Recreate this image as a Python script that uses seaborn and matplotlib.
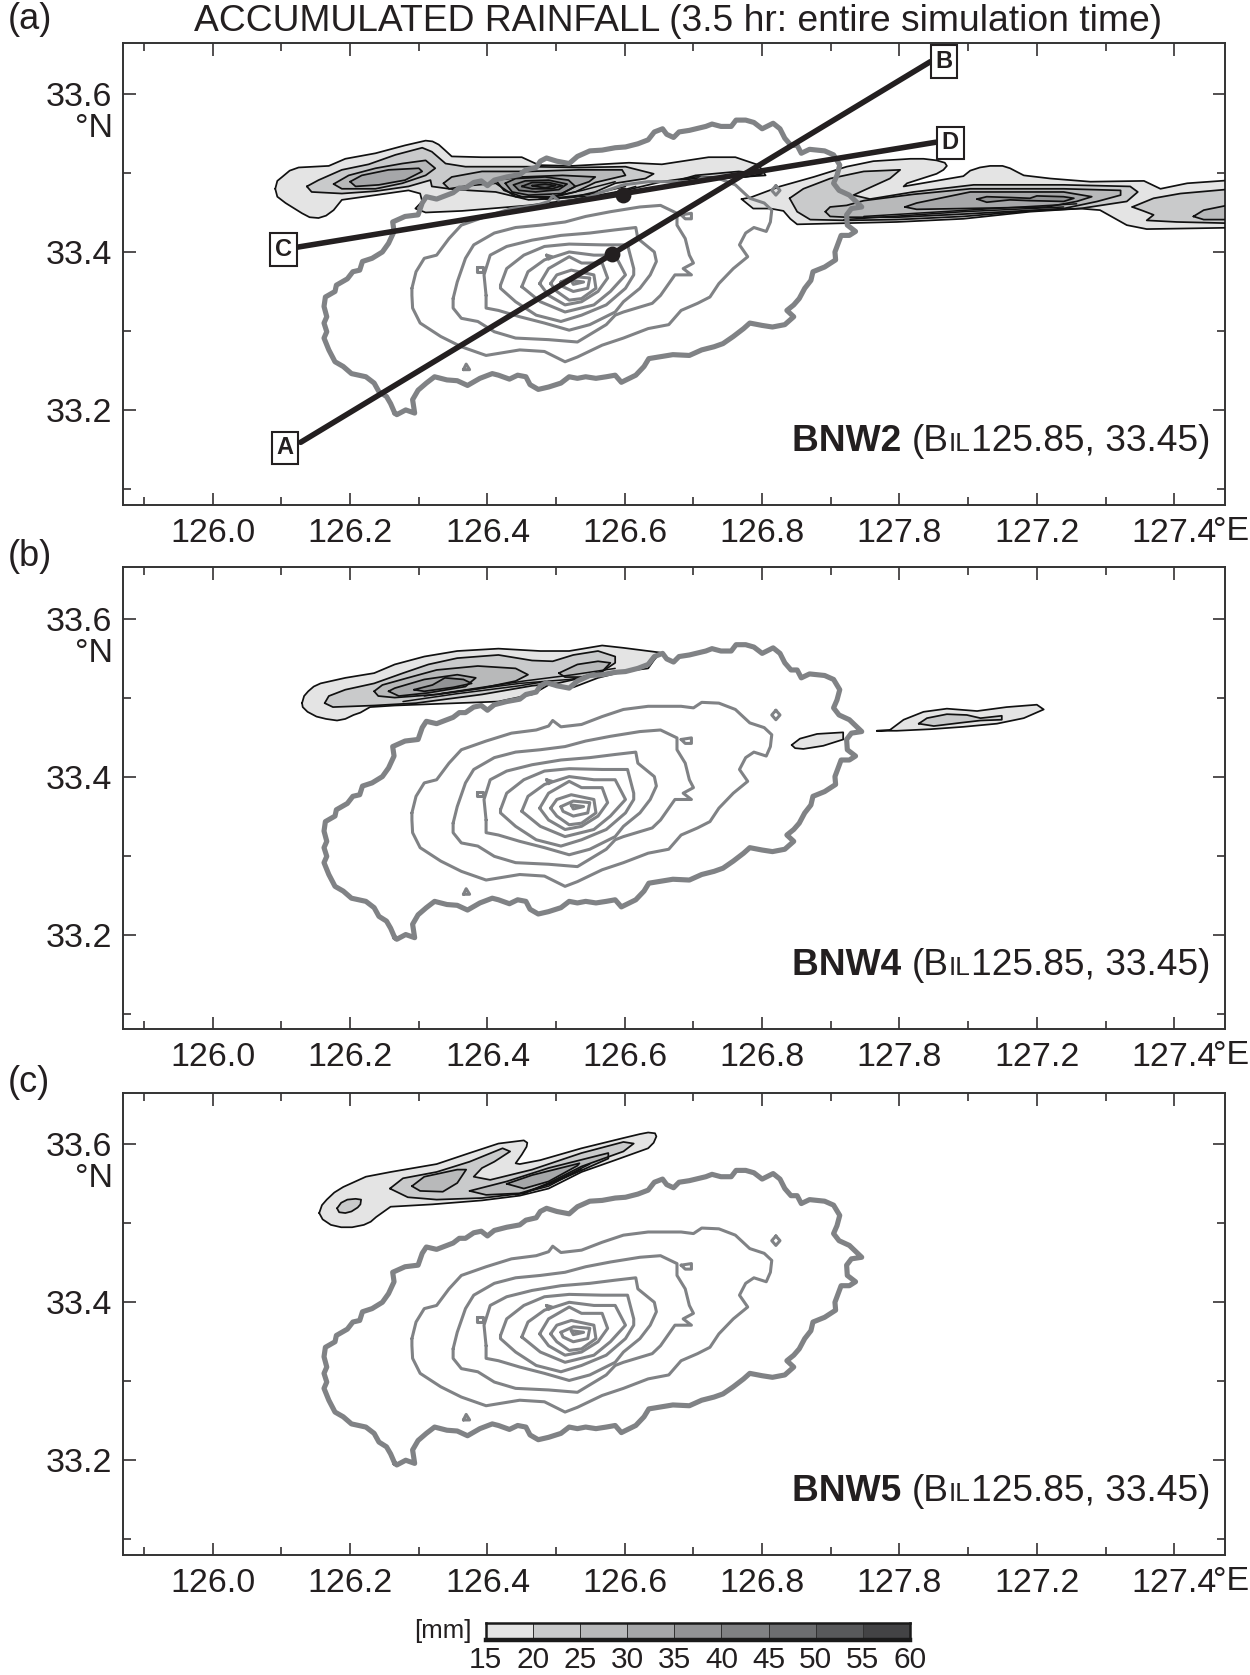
import numpy as np
import matplotlib
matplotlib.use('Agg')
import matplotlib.pyplot as plt
from matplotlib.colors import ListedColormap
import seaborn as sns

# coastline and rain contours as (lon, lat)
coast = [(126.265,33.196),(126.259,33.208),(126.253,33.217),(126.242,33.223),(126.235,33.234),(126.223,33.242),
    (126.202,33.246),(126.190,33.255),(126.178,33.261),(126.169,33.276),(126.162,33.291),(126.166,33.299),
    (126.162,33.310),(126.166,33.318),(126.162,33.331),(126.164,33.343),(126.178,33.350),(126.180,33.358),
    (126.196,33.366),(126.204,33.375),(126.214,33.377),(126.218,33.388),(126.232,33.392),(126.247,33.400),
    (126.256,33.411),(126.264,33.426),(126.262,33.438),(126.280,33.445),(126.299,33.447),(126.305,33.462),
    (126.311,33.470),(126.326,33.467),(126.338,33.471),(126.350,33.475),(126.359,33.481),(126.368,33.481),
    (126.380,33.488),(126.391,33.490),(126.400,33.484),(126.410,33.491),(126.428,33.495),(126.447,33.498),
    (126.456,33.504),(126.471,33.507),(126.477,33.515),(126.486,33.519),(126.501,33.515),(126.519,33.512),
    (126.531,33.521),(126.549,33.528),(126.567,33.529),(126.586,33.532),(126.601,33.533),(126.619,33.537),
    (126.634,33.542),(126.643,33.552),(126.655,33.556),(126.661,33.549),(126.671,33.545),(126.679,33.552),
    (126.694,33.554),(126.718,33.559),(126.727,33.562),(126.740,33.559),(126.755,33.559),(126.762,33.567),
    (126.776,33.567),(126.788,33.564),(126.800,33.556),(126.816,33.563),(126.826,33.556),(126.833,33.544),
    (126.842,33.535),(126.851,33.535),(126.857,33.525),(126.869,33.530),(126.891,33.528),(126.904,33.523),
    (126.913,33.510),(126.909,33.497),(126.904,33.487),(126.912,33.478),(126.927,33.472),(126.945,33.457),
    (126.930,33.455),(126.923,33.447),(126.924,33.434),(126.936,33.426),(126.927,33.421),(126.915,33.421),
    (126.906,33.400),(126.907,33.390),(126.891,33.381),(126.874,33.375),(126.871,33.364),(126.862,33.354),
    (126.854,33.341),(126.846,33.333),(126.836,33.326),(126.846,33.318),(126.833,33.308),(126.815,33.305),
    (126.800,33.307),(126.782,33.310),(126.773,33.303),(126.758,33.293),(126.743,33.284),(126.730,33.280),
    (126.712,33.276),(126.694,33.269),(126.670,33.270),(126.649,33.267),(126.635,33.265),(126.628,33.255),
    (126.616,33.244),(126.595,33.235),(126.586,33.244),(126.573,33.242),(126.558,33.240),(126.543,33.242),
    (126.531,33.240),(126.519,33.242),(126.507,33.234),(126.489,33.229),(126.474,33.226),(126.462,33.232),
    (126.456,33.242),(126.444,33.244),(126.432,33.239),(126.416,33.244),(126.407,33.246),(126.389,33.240),
    (126.371,33.231),(126.356,33.237),(126.341,33.238),(126.323,33.242),(126.311,33.234),(126.299,33.225),
    (126.291,33.213),(126.294,33.196),(126.281,33.200),(126.268,33.194)]

island_1 = [(126.290,33.354),(126.296,33.375),(126.308,33.392),(126.326,33.396),(126.344,33.417),(126.362,33.434),
    (126.398,33.445),(126.435,33.455),(126.471,33.459),(126.489,33.464),(126.495,33.471),(126.507,33.463),
    (126.537,33.466),(126.567,33.476),(126.598,33.485),(126.634,33.489),(126.682,33.489),(126.700,33.487),
    (126.712,33.494),(126.737,33.493),(126.761,33.485),(126.782,33.468),(126.803,33.462),(126.814,33.453),
    (126.812,33.438),(126.806,33.426),(126.788,33.431),(126.776,33.424),(126.767,33.409),(126.779,33.394),
    (126.758,33.379),(126.737,33.360),(126.724,33.343),(126.706,33.335),(126.682,33.326),(126.664,33.308),
    (126.634,33.303),(126.598,33.291),(126.567,33.282),(126.531,33.267),(126.513,33.261),(126.483,33.274),
    (126.447,33.276),(126.398,33.269),(126.362,33.280),(126.332,33.293),(126.302,33.310),(126.291,33.329),(126.290,33.345)]
island_2 = [(126.350,33.341),(126.356,33.362),(126.368,33.392),(126.380,33.409),(126.410,33.424),(126.441,33.431),
    (126.477,33.434),(126.513,33.438),(126.543,33.445),(126.579,33.451),(126.622,33.457),(126.652,33.459),
    (126.676,33.449),(126.676,33.434),(126.688,33.417),(126.694,33.396),(126.700,33.386),(126.685,33.379),
    (126.697,33.371),(126.673,33.371),(126.652,33.345),(126.640,33.335),(126.598,33.324),(126.586,33.320),
    (126.573,33.308),(126.531,33.286),(126.489,33.289),(126.441,33.291),(126.410,33.299),(126.386,33.312),
    (126.362,33.316),(126.350,33.329)]
island_3 = [(126.398,33.345),(126.395,33.371),(126.404,33.396),(126.428,33.407),(126.465,33.415),(126.507,33.421),
    (126.549,33.424),(126.586,33.428),(126.616,33.431),(126.619,33.417),(126.643,33.400),(126.646,33.388),
    (126.637,33.371),(126.622,33.354),(126.598,33.337),(126.586,33.324),(126.549,33.308),(126.519,33.301),
    (126.483,33.310),(126.447,33.318),(126.416,33.326),(126.398,33.329)]
island_4 = [(126.419,33.358),(126.428,33.379),(126.453,33.396),(126.483,33.407),(126.519,33.410),(126.567,33.409),
    (126.604,33.409),(126.613,33.379),(126.613,33.371),(126.601,33.354),(126.573,33.333),(126.537,33.320),
    (126.507,33.312),(126.471,33.320),(126.441,33.337),(126.419,33.354)]
island_5 = [(126.450,33.356),(126.459,33.375),(126.483,33.390),(126.519,33.400),(126.555,33.396),(126.586,33.396),
    (126.601,33.371),(126.579,33.350),(126.555,33.333),(126.513,33.324),(126.477,33.337),(126.453,33.354)]
island_6 = [(126.476,33.360),(126.489,33.379),(126.519,33.394),(126.537,33.386),(126.567,33.386),(126.575,33.367),
    (126.561,33.350),(126.537,33.337),(126.513,33.333),(126.489,33.345)]
island_7 = [(126.492,33.360),(126.501,33.371),(126.522,33.377),(126.555,33.371),(126.558,33.354),(126.537,33.341),
    (126.519,33.339),(126.501,33.350)]
island_8 = [(126.507,33.362),(126.525,33.369),(126.549,33.367),(126.546,33.354),(126.525,33.350),(126.510,33.356)]
island_9 = [(126.522,33.364),(126.540,33.362),(126.525,33.359)]
speck_1 = [(126.365,33.251),(126.369,33.258),(126.374,33.251)]
speck_2 = [(126.820,33.484),(126.826,33.478),(126.820,33.472),(126.814,33.478)]
speck_3 = [(126.682,33.447),(126.697,33.449),(126.697,33.442),(126.688,33.442)]
speck_4 = [(126.385,33.381),(126.393,33.381),(126.393,33.375),(126.385,33.375)]
speck_5 = [(126.486,33.396),(126.494,33.394),(126.489,33.391)]
island_contours = [island_1, island_2, island_3, island_4, island_5, island_6, island_7, island_8, island_9,
                   speck_1, speck_2, speck_3, speck_4, speck_5]

# BNW2 rain bands
a_left_1 = [(126.091,33.480),(126.094,33.490),(126.101,33.495),(126.112,33.503),(126.125,33.507),(126.169,33.509),
    (126.193,33.518),(126.237,33.525),(126.280,33.535),(126.310,33.541),(126.320,33.540),(126.329,33.536),
    (126.338,33.529),(126.348,33.521),(126.392,33.520),(126.450,33.520),(126.475,33.510),(126.523,33.509),
    (126.606,33.513),(126.654,33.511),(126.722,33.520),(126.761,33.520),(126.795,33.510),(126.805,33.497),
    (126.771,33.495),(126.703,33.495),(126.654,33.489),(126.601,33.478),(126.523,33.466),(126.460,33.459),
    (126.363,33.452),(126.310,33.450),(126.295,33.455),(126.305,33.464),(126.302,33.474),(126.285,33.478),
    (126.237,33.472),(126.188,33.466),(126.176,33.453),(126.165,33.446),(126.154,33.443),(126.141,33.444),
    (126.130,33.449),(126.106,33.462),(126.094,33.470)]
a_left_2 = [(126.137,33.483),(126.154,33.491),(126.188,33.504),(126.227,33.511),(126.266,33.523),(126.305,33.532),
    (126.319,33.527),(126.339,33.512),(126.368,33.508),(126.460,33.508),(126.533,33.507),(126.601,33.508),
    (126.642,33.499),(126.630,33.493),(126.586,33.487),(126.557,33.476),(126.523,33.469),(126.460,33.466),
    (126.412,33.476),(126.373,33.478),(126.344,33.480),(126.319,33.483),(126.317,33.491),(126.285,33.483),
    (126.237,33.477),(126.188,33.474),(126.144,33.476)]
a_left_3 = [(126.176,33.486),(126.198,33.497),(126.237,33.506),(126.276,33.512),(126.310,33.516),(126.324,33.506),
    (126.310,33.497),(126.276,33.487),(126.237,33.480),(126.188,33.480)]
a_left_4 = [(126.200,33.489),(126.217,33.497),(126.256,33.504),(126.300,33.506),(126.305,33.502),(126.280,33.491),
    (126.242,33.485),(126.208,33.483)]
a_mid_3 = [(126.336,33.487),(126.348,33.495),(126.392,33.502),(126.460,33.502),(126.533,33.504),(126.596,33.504),
    (126.601,33.497),(126.557,33.488),(126.528,33.476),(126.494,33.469),(126.441,33.470),(126.412,33.487),
    (126.373,33.484),(126.344,33.480)]
a_mid_4 = [(126.412,33.491),(126.450,33.495),(126.509,33.497),(126.557,33.495),(126.548,33.489),(126.528,33.483),
    (126.499,33.470),(126.450,33.470),(126.424,33.478)]
a_mid_5 = [(126.426,33.487),(126.441,33.493),(126.484,33.495),(126.518,33.491),(126.528,33.483),(126.509,33.474),
    (126.460,33.472),(126.436,33.476)]
a_mid_6 = [(126.438,33.485),(126.455,33.490),(126.489,33.491),(126.516,33.486),(126.504,33.479),(126.470,33.476),(126.446,33.478)]
a_mid_7 = [(126.450,33.483),(126.465,33.488),(126.489,33.488),(126.509,33.484),(126.494,33.480),(126.465,33.480)]
a_mid_8 = [(126.465,33.484),(126.484,33.486),(126.499,33.484),(126.484,33.481)]
a_patch_2 = [(126.679,33.491),(126.703,33.497),(126.766,33.502),(126.800,33.499),(126.776,33.495),(126.703,33.493)]
a_right_1 = [(126.770,33.467),(126.783,33.469),(126.826,33.483),(126.875,33.495),(126.923,33.508),(126.962,33.515),
    (127.016,33.518),(127.035,33.518),(127.054,33.516),(127.066,33.513),(127.069,33.509),(127.064,33.504),
    (127.054,33.499),(127.011,33.487),(127.006,33.483),(127.093,33.496),(127.103,33.503),(127.117,33.507),
    (127.132,33.509),(127.150,33.509),(127.161,33.506),(127.172,33.501),(127.181,33.497),(127.220,33.493),
    (127.278,33.489),(127.356,33.490),(127.380,33.480),(127.419,33.487),(127.500,33.492),(127.500,33.431),
    (127.433,33.430),(127.360,33.429),(127.331,33.434),(127.292,33.453),(127.263,33.455),(127.190,33.451),
    (127.093,33.442),(126.996,33.438),(126.899,33.436),(126.851,33.435),(126.841,33.442),(126.831,33.452),
    (126.812,33.455),(126.787,33.455)]
a_right_2 = [(126.840,33.468),(126.860,33.480),(126.899,33.493),(126.948,33.502),(127.001,33.504),(126.986,33.493),
    (126.948,33.478),(126.933,33.472),(126.957,33.467),(127.020,33.476),(127.108,33.485),(127.239,33.485),
    (127.336,33.483),(127.347,33.476),(127.331,33.464),(127.263,33.455),(127.190,33.452),(127.093,33.445),
    (126.996,33.441),(126.923,33.440),(126.870,33.441),(126.851,33.451)]
a_right_3 = [(126.892,33.451),(126.899,33.457),(126.923,33.459),(126.948,33.465),(127.020,33.473),(127.103,33.480),
    (127.239,33.480),(127.322,33.478),(127.322,33.472),(127.288,33.464),(127.239,33.455),(127.093,33.448),
    (126.996,33.444),(126.923,33.444),(126.899,33.445)]
a_right_4 = [(127.008,33.457),(127.025,33.462),(127.103,33.476),(127.239,33.476),(127.280,33.470),(127.258,33.464),
    (127.215,33.457),(127.093,33.455),(127.025,33.454)]
a_right_5 = [(127.113,33.467),(127.127,33.470),(127.161,33.469),(127.190,33.468),(127.200,33.471),(127.239,33.470),
    (127.254,33.468),(127.239,33.464),(127.190,33.465),(127.161,33.466),(127.127,33.463)]
a_far_2 = [(127.339,33.457),(127.370,33.468),(127.409,33.474),(127.500,33.481),(127.500,33.436),(127.404,33.438),
    (127.360,33.440),(127.370,33.447),(127.355,33.452)]
a_far_3 = [(127.428,33.445),(127.443,33.453),(127.500,33.463),(127.500,33.441),(127.443,33.441)]
a_bands = [(1, a_left_1), (1, a_right_1), (2, a_left_2), (2, a_patch_2), (2, a_right_2), (2, a_far_2), (3, a_left_3),
           (3, a_mid_3), (3, a_right_3), (3, a_far_3), (4, a_left_4), (4, a_mid_4), (4, a_right_4), (5, a_mid_5),
           (5, a_right_5), (6, a_mid_6), (7, a_mid_7), (8, a_mid_8)]
a_tight = [[(126.484,33.467),(126.557,33.474),(126.601,33.483)], [(126.489,33.469),(126.538,33.478),(126.586,33.489)],
           [(126.475,33.467),(126.572,33.472),(126.616,33.483)], [(126.919,33.441),(127.093,33.451),(127.239,33.457)],
           [(126.948,33.445),(127.118,33.454),(127.258,33.461)]]

# BNW4 rain bands
b_main_1 = [(126.130,33.493),(126.133,33.502),(126.139,33.508),(126.147,33.514),(126.157,33.518),(126.193,33.525),
    (126.235,33.531),(126.265,33.542),(126.308,33.552),(126.356,33.559),(126.416,33.562),(126.477,33.559),
    (126.519,33.559),(126.567,33.566),(126.598,33.563),(126.652,33.557),(126.643,33.548),(126.634,33.537),
    (126.598,33.533),(126.561,33.525),(126.525,33.513),(126.489,33.516),(126.465,33.504),(126.416,33.495),
    (126.265,33.490),(126.229,33.488),(126.215,33.481),(126.205,33.478),(126.193,33.473),(126.181,33.471),
    (126.165,33.473),(126.151,33.476),(126.138,33.482),(126.131,33.488)]
b_main_2 = [(126.163,33.493),(126.169,33.502),(126.193,33.510),(126.235,33.518),(126.277,33.531),(126.314,33.542),
    (126.356,33.550),(126.416,33.554),(126.465,33.547),(126.495,33.546),(126.525,33.554),(126.561,33.559),
    (126.586,33.552),(126.586,33.544),(126.567,33.533),(126.537,33.525),(126.501,33.518),(126.465,33.515),
    (126.392,33.504),(126.296,33.493),(126.235,33.490),(126.175,33.488)]
b_main_3 = [(126.235,33.508),(126.247,33.516),(126.284,33.525),(126.326,33.535),(126.386,33.540),(126.441,33.537),
    (126.459,33.529),(126.441,33.521),(126.392,33.512),(126.326,33.504),(126.265,33.500),(126.241,33.502)]
b_east_3 = [(126.504,33.531),(126.531,33.542),(126.561,33.546),(126.579,33.544),(126.567,33.533),(126.537,33.526),(126.513,33.526)]
b_main_4 = [(126.256,33.508),(126.265,33.512),(126.308,33.523),(126.356,33.529),(126.383,33.525),(126.368,33.514),
    (126.314,33.506),(126.271,33.502)]
b_main_5 = [(126.293,33.510),(126.320,33.516),(126.338,33.525),(126.365,33.523),(126.377,33.518),(126.350,33.513),(126.308,33.508)]
b_frag_1 = [(126.843,33.440),(126.855,33.448),(126.880,33.454),(126.918,33.456),(126.918,33.447),(126.889,33.439),
    (126.860,33.435),(126.848,33.436)]
b_frag_2 = [(126.967,33.458),(126.986,33.459),(127.006,33.472),(127.035,33.482),(127.069,33.486),(127.113,33.483),
    (127.156,33.488),(127.200,33.491),(127.210,33.485),(127.181,33.474),(127.142,33.467),(127.093,33.463),
    (127.045,33.460),(126.996,33.458)]
b_frag_3 = [(127.028,33.467),(127.040,33.474),(127.069,33.479),(127.098,33.478),(127.118,33.474),(127.149,33.477),
    (127.149,33.472),(127.118,33.471),(127.088,33.468),(127.050,33.464)]
b_bands = [(1, b_main_1), (1, b_frag_1), (1, b_frag_2), (2, b_main_2), (2, b_frag_3), (3, b_main_3), (3, b_east_3),
           (4, b_main_4), (5, b_main_5)]
b_tight = [[(126.277,33.495),(126.356,33.505),(126.447,33.515),(126.489,33.521)],
           [(126.308,33.502),(126.368,33.509),(126.447,33.518),(126.519,33.523),(126.555,33.528)],
           [(126.332,33.505),(126.392,33.513),(126.453,33.521),(126.525,33.529),(126.586,33.537)]]

# BNW5 rain bands
c_main_1 = [(126.155,33.513),(126.159,33.523),(126.166,33.530),(126.177,33.539),(126.190,33.546),(126.223,33.559),
    (126.259,33.565),(126.326,33.575),(126.374,33.589),(126.416,33.601),(126.453,33.605),(126.458,33.602),
    (126.457,33.597),(126.450,33.587),(126.441,33.576),(126.447,33.575),(126.477,33.580),(126.537,33.595),
    (126.598,33.608),(126.622,33.613),(126.634,33.615),(126.644,33.614),(126.646,33.610),(126.642,33.602),
    (126.634,33.595),(126.586,33.580),(126.537,33.565),(126.489,33.544),(126.447,33.535),(126.392,33.529),
    (126.320,33.524),(126.259,33.521),(126.238,33.508),(126.230,33.502),(126.220,33.498),(126.203,33.495),
    (126.187,33.495),(126.172,33.498),(126.160,33.505)]
c_blob_2 = [(126.181,33.519),(126.187,33.526),(126.196,33.530),(126.208,33.531),(126.216,33.530),(126.215,33.524),
    (126.211,33.520),(126.202,33.515),(126.193,33.513),(126.184,33.514)]
c_main_2 = [(126.258,33.544),(126.277,33.557),(126.326,33.565),(126.374,33.578),(126.422,33.595),(126.433,33.591),
    (126.410,33.578),(126.392,33.570),(126.380,33.559),(126.404,33.555),(126.465,33.568),(126.537,33.589),
    (126.598,33.603),(126.613,33.601),(126.598,33.591),(126.537,33.572),(126.489,33.551),(126.453,33.538),
    (126.392,33.532),(126.326,33.530),(126.284,33.533)]
c_west_3 = [(126.290,33.547),(126.308,33.559),(126.356,33.568),(126.369,33.568),(126.356,33.551),(126.335,33.540),(126.302,33.541)]
c_east_3 = [(126.374,33.541),(126.428,33.553),(126.489,33.570),(126.576,33.589),(126.576,33.582),(126.537,33.567),
    (126.489,33.549),(126.447,33.538),(126.398,33.536)]
c_east_4 = [(126.428,33.550),(126.465,33.561),(126.534,33.576),(126.531,33.573),(126.489,33.553),(126.453,33.544)]
c_bands = [(1, c_main_1), (2, c_blob_2), (2, c_main_2), (3, c_west_3), (3, c_east_3), (4, c_east_4)]
c_tight = [[(126.441,33.536),(126.489,33.547),(126.537,33.569)], [(126.453,33.538),(126.495,33.552),(126.549,33.575)]]

# cross section lines, panel (a)
line_ab = [(126.128,33.159),(127.045,33.641)]
line_cd = [(126.1225,33.406),(127.053,33.539)]
section_mid_lon = [126.582,126.597]
section_mid_lat = [33.397,33.472]
section_names = ['A','B','C','D']
section_name_lon = [126.105,127.065,126.103,127.074]
section_name_lat = [33.152,33.641,33.403,33.538]

x_ticks = [126.0,126.2,126.4,126.6,126.8,127.0,127.2,127.4]
x_labels = ['126.0','126.2','126.4','126.6','126.8','127.8','127.2','127.4']
x_minor = [125.9,126.1,126.3,126.5,126.7,126.9,127.1,127.3]
y_ticks = [33.2,33.4,33.6]
y_minor = [33.1,33.3,33.5]
cbar_levels = [15,20,25,30,35,40,45,50,55,60]
level_colors = ['#e4e4e4','#c9cacb','#b8b9ba','#a6a7a9','#929395','#808183','#6d6e70','#58595b','#434345']
run_names = ['BNW2','BNW4','BNW5']
panel_names = ['(a)','(b)','(c)']

W, H = 1250, 1675
INK = '#231f20'
GREY = '#808285'

sns.set_theme(style='ticks')
plt.rcParams['font.family'] = ['Liberation Sans', 'DejaVu Sans']
plt.rcParams['text.color'] = INK
plt.rcParams['xtick.color'] = INK
plt.rcParams['ytick.color'] = INK
plt.rcParams['axes.edgecolor'] = '#333333'


def draw_poly(ax, poly, color, lw, z, close=True):
    pts = np.array(poly + poly[:1]) if close else np.array(poly)
    sns.lineplot(x=pts[:, 0], y=pts[:, 1], sort=False, estimator=None, errorbar=None, color=color,
                 linewidth=lw, ax=ax, zorder=z, solid_joinstyle='round')


def draw_panel(ax, bands, tight):
    for level, poly in bands:
        pts = np.array(poly)
        ax.fill(pts[:, 0], pts[:, 1], color=level_colors[level - 1], linewidth=0, zorder=2)
        draw_poly(ax, poly, '#111111', 1.25, 3)
    for poly in tight:
        draw_poly(ax, poly, '#111111', 1.1, 3, close=False)
    for poly in island_contours:
        draw_poly(ax, poly, GREY, 2.2, 4)
    draw_poly(ax, coast, GREY, 3.7, 5)

    ax.set_xlim(125.869, 127.474)
    ax.set_ylim(33.08, 33.665)
    ax.set_xticks(x_ticks)
    ax.set_xticklabels(x_labels)
    ax.set_xticks(x_minor, minor=True)
    ax.set_yticks(y_ticks)
    ax.set_yticklabels(['%.1f' % v for v in y_ticks])
    ax.set_yticks(y_minor, minor=True)
    ax.tick_params(which='major', direction='in', top=True, right=True, length=9, width=1.1, labelsize=24.5)
    ax.tick_params(which='minor', direction='in', top=True, right=True, length=6, width=1.1)
    ax.tick_params(axis='x', which='major', pad=9.5)
    ax.tick_params(axis='y', which='major', pad=7.5)
    ax.set(xlabel='', ylabel='')
    for s in ax.spines.values():
        s.set_linewidth(1.4)


def run_label(fig, name, right, base):
    # pieces set right to left so the small capitals fit in
    pieces = [('125.85, 33.45)', 'normal', 26.7), ('IL', 'normal', 19), ('(B', 'normal', 26.7), (name + ' ', 'bold', 26.7)]
    r = fig.canvas.get_renderer()
    x = right
    for txt, weight, size in pieces:
        t = fig.text(x / W, 1 - base / H, txt, ha='right', va='baseline', fontsize=size, fontweight=weight)
        x -= t.get_window_extent(r).width


fig = plt.figure(figsize=(W / 100, H / 100), dpi=100)
panel_tops = [42.7, 567.3, 1093.0]
label_bases = [29, 566, 1092]
panel_bands = [(a_bands, a_tight), (b_bands, b_tight), (c_bands, c_tight)]
left, right, height = 122.8, 1225.0, 462.0

for i, top in enumerate(panel_tops):
    ax = fig.add_axes([left / W, 1 - (top + height) / H, (right - left) / W, height / H])
    draw_panel(ax, *panel_bands[i])
    fig.text(8 / W, 1 - label_bases[i] / H, panel_names[i], fontsize=26, ha='left', va='baseline')
    fig.text(1213 / W, 1 - (top + height + 35) / H, '°E', fontsize=24.5, ha='left', va='baseline')
    ax.annotate('°N', xy=(0, 33.6), xycoords=('axes fraction', 'data'), xytext=(-7, -31), textcoords='offset points',
                ha='right', va='baseline', fontsize=24.5)
    run_label(fig, run_names[i], 1210, top + 408)
    if i == 0:
        for seg in (line_ab, line_cd):
            draw_poly(ax, seg, INK, 4.0, 6, close=False)
        sns.scatterplot(x=section_mid_lon, y=section_mid_lat, s=130, color=INK, linewidth=0, ax=ax, zorder=7)
        for nm, lo, la in zip(section_names, section_name_lon, section_name_lat):
            ax.text(lo, la, nm, fontsize=17, fontweight='bold', ha='center', va='center', zorder=8,
                    bbox=dict(boxstyle='square,pad=0.2', fc='white', ec=INK, lw=1.5))
        ax.set_xlim(125.869, 127.474)
        ax.set_ylim(33.08, 33.665)
        ax.set(xlabel='', ylabel='')

fig.text((194 + 1161) / 2 / W, 1 - 31 / H, 'ACCUMULATED RAINFALL (3.5 hr: entire simulation time)',
         fontsize=26.8, ha='center', va='baseline')

# colour scale at the foot
cax = fig.add_axes([485.7 / W, 1 - 1640 / H, (910 - 485.7) / W, 17.3 / H])
mids = (np.array(cbar_levels[:-1]) + np.array(cbar_levels[1:])) / 2
sns.heatmap(mids.reshape(1, -1), cmap=ListedColormap(level_colors), vmin=15, vmax=60, cbar=False, ax=cax,
            linewidths=0.7, linecolor='#333333', xticklabels=False, yticklabels=False)
cax.set_xticks(np.arange(len(cbar_levels)))
cax.set_xticklabels([str(v) for v in cbar_levels], fontsize=21.5)
cax.tick_params(axis='x', length=0, pad=4)
cax.set(xlabel='', ylabel='')
for name, s in cax.spines.items():
    s.set_visible(True)
    s.set_color('#1a1a1a')
    s.set_linewidth(3.2 if name == 'bottom' else 1.8)
fig.text(472 / W, 1 - 1638 / H, '[mm]', fontsize=18.5, ha='right', va='baseline')

fig.savefig('out.png', dpi=100)
